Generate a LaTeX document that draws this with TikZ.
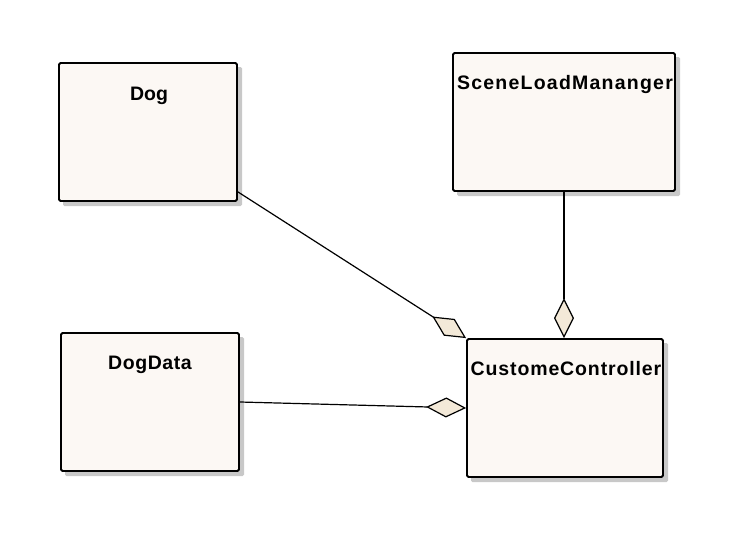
\documentclass[tikz,border=0pt]{standalone}
\usepackage{fontspec}
\setmainfont{Liberation Sans}
\usetikzlibrary{arrows.meta}
\definecolor{boxfill}{HTML}{FCF8F4}
\definecolor{dfill}{HTML}{F3E9D8}
\definecolor{shade}{HTML}{C8C8C8}
\tikzset{
  cls/.style={draw=black, line width=1.8pt, fill=boxfill, rounded corners=1.5pt, inner sep=0pt},
  shadowbox/.style={fill=shade, draw=none, rounded corners=1.5pt},
  ttl/.style={font=\bfseries\fontsize{19.5}{21}\selectfont, inner sep=0pt, anchor=base},
  agg/.style={line width=1.2pt, -{Diamond[length=40pt,width=20pt,fill=dfill,line width=1.2pt]}},
}
\begin{document}
\begin{tikzpicture}[x=1pt,y=-1pt]
\useasboundingbox[fill=white] (0,0) rectangle (745,541);
% shadows
\fill[shadowbox] (63,67) rectangle (242,206);
\fill[shadowbox] (457,57) rectangle (680,196);
\fill[shadowbox] (65,337) rectangle (244,476);
\fill[shadowbox] (471,343) rectangle (668,482);
% classes
\node[cls, minimum width=178pt, minimum height=138pt] (dog) at (148,132) {};
\node[cls, minimum width=222pt, minimum height=138pt] (slm) at (564,122) {};
\node[cls, minimum width=178pt, minimum height=138pt] (dd) at (150,402) {};
\node[cls, minimum width=196pt, minimum height=138pt] (cc) at (565,408) {};
% titles
\node[ttl] (tdog) at (149,100) {Dog};
\node[ttl] (tslm) at (565,89) {\addfontfeature{LetterSpace=6.3}SceneLoadMananger};
\node[ttl] (tdd) at (150,369) {\addfontfeature{LetterSpace=3}DogData};
\node[ttl] (tcc) at (566,375) {\addfontfeature{LetterSpace=4.5}CustomeController};
% connectors
\draw[agg] (dog.south east) ++(0,-10) coordinate (dogend) -- (cc.north west);
\draw[agg] (slm.south) -- (slm.south |- cc.north);
\draw[agg] (dd.east) -- (cc.west);
\end{tikzpicture}
\end{document}
